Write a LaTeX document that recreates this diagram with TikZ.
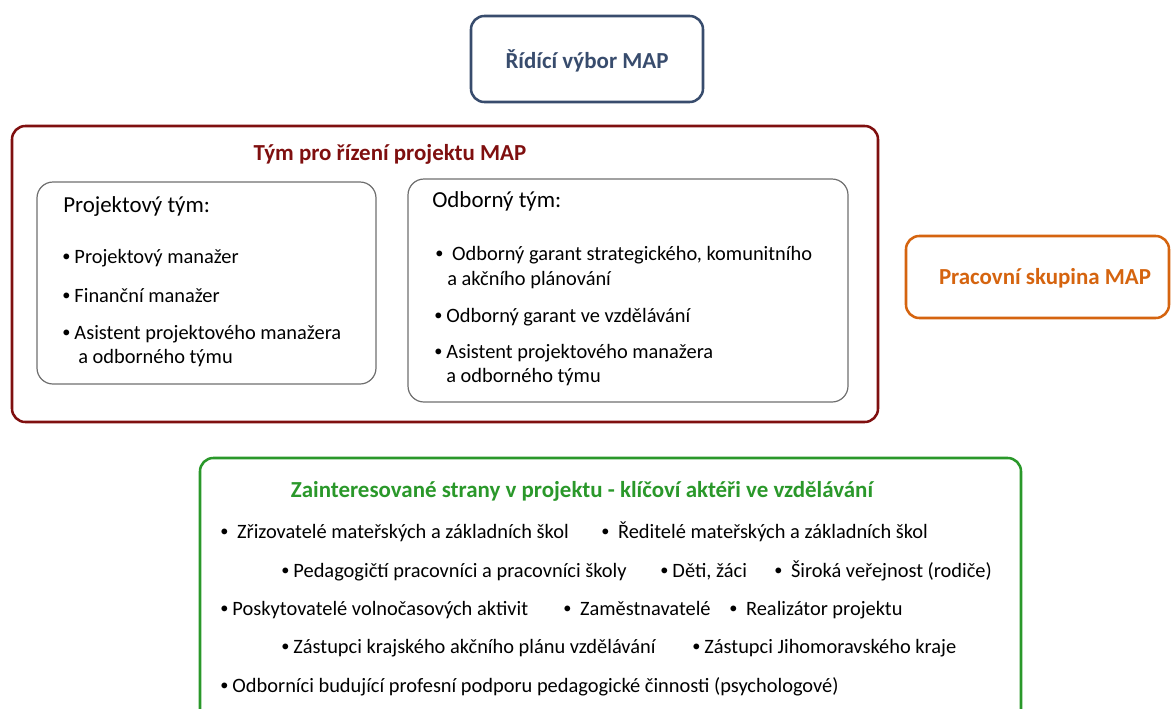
\documentclass[tikz,border=0pt]{standalone}
\usepackage{fontspec}
\setmainfont{Carlito}
\usetikzlibrary{calc}

\definecolor{mapblue}{HTML}{384C6D}
\definecolor{mapred}{HTML}{7F0F0F}
\definecolor{maporange}{HTML}{D5640F}
\definecolor{mapgreen}{HTML}{2A982A}
\definecolor{mapgray}{HTML}{6E6E6E}

\newcommand{\mapbul}{\raisebox{0.06em}{\scalebox{0.8}{\textbullet}}\hspace{0.2em}}

\tikzset{
	boxtitle/.style={anchor=base, inner sep=0, font=\fontsize{17.2}{20}\selectfont\bfseries},
	teamhead/.style={anchor=base west, inner sep=0, font=\fontsize{17.2}{20}\selectfont},
	item/.style={anchor=base west, inner sep=0, font=\fontsize{15.3}{18}\selectfont},
	outerbox/.style={line width=1.9pt, rounded corners=10pt},
	innerbox/.style={line width=0.9pt, draw=mapgray, rounded corners=12pt},
}

\begin{document}
\begin{tikzpicture}[x=0.75pt, y=-0.75pt]
			%%%%% START %%%%%
			
			\clip (0, 0) rectangle (1172, 708);
			
			% steering committee
			\draw[outerbox, draw=mapblue] (471, 16) rectangle (703, 102);
			\node[boxtitle, text=mapblue] (ridici) at (587, 68) {Řídící výbor MAP};
			
			% project management team
			\draw[outerbox, draw=mapred] (12, 126) rectangle (878, 422);
			\node[boxtitle, text=mapred] (tym) at (390, 160) {Tým pro řízení projektu MAP};
			
			\draw[innerbox] (37, 182) rectangle (376, 384);
			\node[teamhead] (projtym) at (63, 212) {Projektový tým:};
			\node[item] (pm) at (62, 263) {\mapbul Projektový manažer};
			\node[item] (fm) at (62, 302) {\mapbul Finanční manažer};
			\node[item] (asist1) at (62, 339) {\mapbul Asistent projektového manažera};
			\node[item] (asist1b) at (78, 363) {a odborného týmu};
			
			\draw[innerbox] (408, 179) rectangle (848, 402);
			\node[teamhead] (odbtym) at (432, 207) {Odborný tým:};
			\node[item] (garant1) at (435, 260) {\mapbul\ Odborný garant strategického, komunitního};
			\node[item] (garant1b) at (447, 285) {a akčního plánování};
			\node[item] (garant2) at (434, 322) {\mapbul Odborný garant ve vzdělávání};
			\node[item] (asist2) at (434, 358) {\mapbul Asistent projektového manažera};
			\node[item] (asist2b) at (446, 382) {a odborného týmu};
			
			% working group
			\draw[outerbox, draw=maporange] (906, 236) rectangle (1169, 318);
			\node[boxtitle, text=maporange] (skupina) at (1045, 284) {Pracovní skupina MAP};
			
			% stakeholders
			\draw[outerbox, draw=mapgreen] (200, 458) rectangle (1021, 725);
			\node[boxtitle, text=mapgreen] (strany) at (582, 497) {Zainteresované strany v projektu - klíčoví aktéři ve vzdělávání};
			
			\node[item] (zriz) at (220, 538) {\mapbul\ Zřizovatelé mateřských a základních škol};
			\node[item] (redit) at (601, 538) {\mapbul\ Ředitelé mateřských a základních škol};
			
			\node[item] (pedag) at (281, 577) {\mapbul Pedagogičtí pracovníci a pracovníci školy};
			\node[item] (deti) at (660, 577) {\mapbul Děti, žáci};
			\node[item] (verej) at (774, 577) {\mapbul\ Široká veřejnost (rodiče)};
			
			\node[item] (volno) at (220, 615) {\mapbul Poskytovatelé volnočasových aktivit};
			\node[item] (zamest) at (563, 615) {\mapbul\ Zaměstnavatelé};
			\node[item] (realiz) at (729, 615) {\mapbul\ Realizátor projektu};
			
			\node[item] (kap) at (281, 653) {\mapbul Zástupci krajského akčního plánu vzdělávání};
			\node[item] (jmk) at (692, 653) {\mapbul Zástupci Jihomoravského kraje};
			
			\node[item] (odbor) at (220, 692) {\mapbul Odborníci budující profesní podporu pedagogické činnosti (psychologové)};
			
			%%%%% END %%%%%
\end{tikzpicture}
\end{document}
